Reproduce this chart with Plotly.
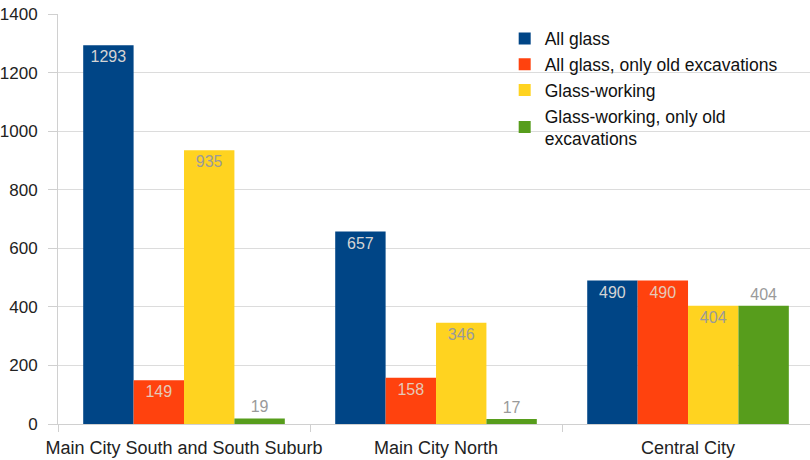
import plotly.graph_objects as go

categories = ["Main City South and South Suburb", "Main City North", "Central City"]
series_names = ["All glass", "All glass, only old excavations", "Glass-working",
                "Glass-working, only old<br>excavations"]
all_glass = [1293, 657, 490]
all_glass_old = [149, 158, 490]
glass_working = [935, 346, 404]
glass_working_old = [19, 17, 404]
y_ticks = [0, 200, 400, 600, 800, 1000, 1200, 1400]

colors = ["#004586", "#ff420e", "#ffd320", "#579d1c"]
values = [all_glass, all_glass_old, glass_working, glass_working_old]
label_colors = ["#d4d4d4", "#e6c9b8", "#9a9a9a", "#9a9a9a"]
positions = ["inside", "inside", "inside", "outside"]

fig = go.Figure()
for name, vals, col, lc, pos in zip(series_names, values, colors, label_colors, positions):
    fig.add_trace(go.Bar(
        x=categories, y=vals, name=name,
        marker=dict(color=col, line=dict(width=0)),
        text=[str(v) for v in vals], textposition=pos,
        insidetextanchor="end", constraintext="none",
        textfont=dict(family="Liberation Sans", size=16, color=lc),
        outsidetextfont=dict(family="Liberation Sans", size=16, color="#9a9a9a"),
        cliponaxis=False,
    ))

fig.update_layout(
    width=810, height=460,
    margin=dict(l=58, r=0, t=14, b=36, autoexpand=False),
    paper_bgcolor="white", plot_bgcolor="white",
    barmode="group", bargap=0.2, bargroupgap=0,
    font=dict(family="Liberation Sans", size=17, color="#222222"),
    showlegend=True,
    legend=dict(x=0.594, y=0.984, xanchor="left", yanchor="top",
                font=dict(size=17.5, color="#111111"), bgcolor="rgba(0,0,0,0)",
                itemwidth=30, tracegroupgap=0),
    xaxis=dict(range=[-0.5, 2.484], showline=True, linecolor="#d0d0d0",
               ticks="outside", tickson="boundaries", ticklen=7, tickcolor="#d0d0d0",
               showgrid=False, automargin=False, ticklabelstandoff=7, tickangle=0,
               tickfont=dict(size=18, color="#222222")),
    yaxis=dict(range=[0, 1400], tickvals=y_ticks, showline=True, linecolor="#d0d0d0",
               ticks="outside", ticklen=9, tickcolor="#d0d0d0",
               showgrid=True, gridcolor="#dcdcdc", zeroline=False,
               automargin=False, ticklabelstandoff=7,
               tickfont=dict(size=17, color="#222222")),
)

fig.write_html("out.html", config={"displayModeBar": False},
               post_script="document.body.style.margin='0';document.body.style.padding='0';")
